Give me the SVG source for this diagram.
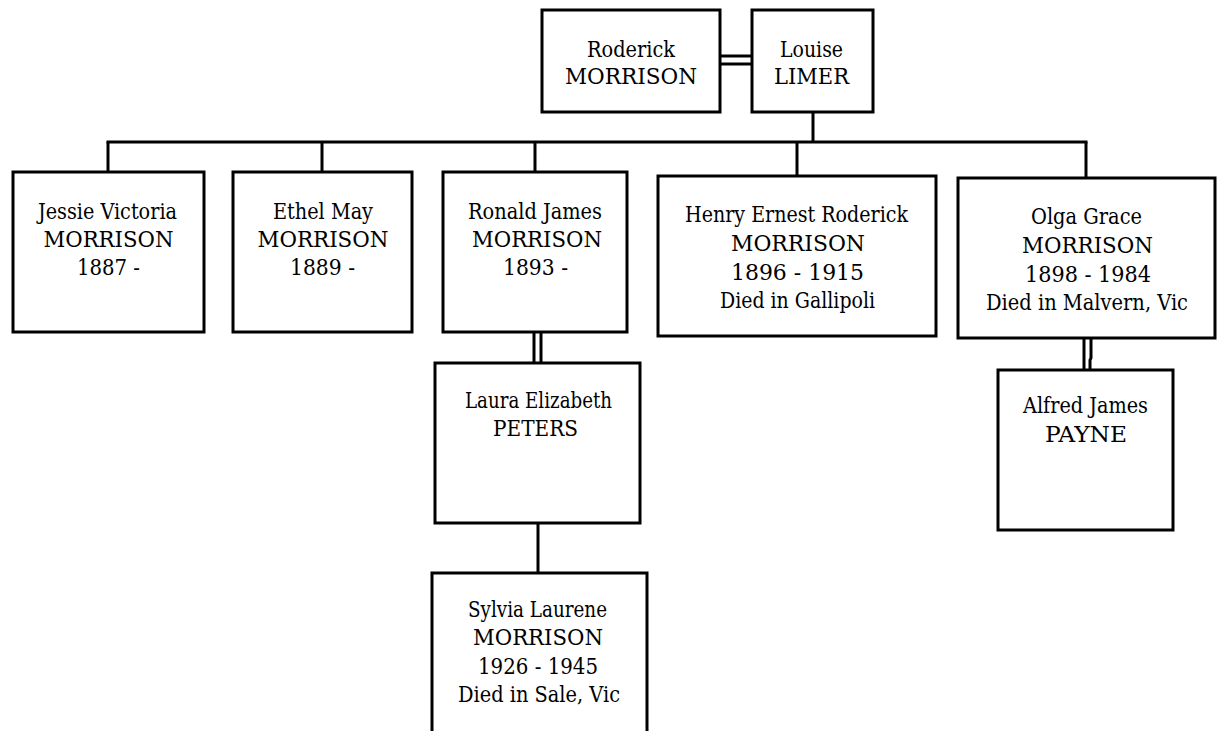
<svg xmlns="http://www.w3.org/2000/svg" width="1217" height="731" viewBox="0 0 1217 731">
<style>
.box{fill:#fff;stroke:#000;stroke-width:3}
.ln{fill:none;stroke:#000;stroke-width:3}
.t{font-family:'DejaVu Serif Condensed','DejaVu Serif','Liberation Serif',serif;font-size:23px;fill:#000;text-anchor:middle}
</style>
<rect width="1217" height="731" fill="#fff"/>
<g id="connectors">
<line class="ln" x1="720" y1="56" x2="752" y2="56"/>
<line class="ln" x1="720" y1="64" x2="752" y2="64"/>
<line class="ln" x1="813" y1="112" x2="813" y2="142"/>
<line class="ln" x1="106.5" y1="142" x2="1087.5" y2="142"/>
<line class="ln" x1="108" y1="142" x2="108" y2="172"/>
<line class="ln" x1="322" y1="142" x2="322" y2="172"/>
<line class="ln" x1="535" y1="142" x2="535" y2="172"/>
<line class="ln" x1="797" y1="142" x2="797" y2="176"/>
<line class="ln" x1="1086" y1="142" x2="1086" y2="178"/>
<line class="ln" x1="534" y1="332" x2="534" y2="363"/>
<line class="ln" x1="541" y1="332" x2="541" y2="363"/>
<line class="ln" x1="538" y1="523" x2="538" y2="572"/>
<line class="ln" x1="1084" y1="338" x2="1084" y2="370"/>
<polyline class="ln" points="1091,338 1091,358 1090,360 1090,370"/>
</g>
<g class="t" lengthAdjust="spacingAndGlyphs">
<g id="roderick"><rect class="box" x="542" y="10" width="178" height="102"/><text x="631" y="57" textLength="88" lengthAdjust="spacingAndGlyphs">Roderick</text><text x="631" y="84" textLength="132" lengthAdjust="spacingAndGlyphs">MORRISON</text></g>
<g id="louise"><rect class="box" x="752" y="10" width="121" height="102"/><text x="811.5" y="57" textLength="63" lengthAdjust="spacingAndGlyphs">Louise</text><text x="811.5" y="84" textLength="75" lengthAdjust="spacingAndGlyphs">LIMER</text></g>
<g id="jessie"><rect class="box" x="13" y="172" width="191" height="160"/><text x="107.5" y="219" textLength="139" lengthAdjust="spacingAndGlyphs">Jessie Victoria</text><text x="108.5" y="247" textLength="130" lengthAdjust="spacingAndGlyphs">MORRISON</text><text x="108.5" y="275" textLength="63" lengthAdjust="spacingAndGlyphs">1887 -</text></g>
<g id="ethel"><rect class="box" x="233" y="172" width="179" height="160"/><text x="323" y="219" textLength="100" lengthAdjust="spacingAndGlyphs">Ethel May</text><text x="323" y="247" textLength="131" lengthAdjust="spacingAndGlyphs">MORRISON</text><text x="322.5" y="275" textLength="65" lengthAdjust="spacingAndGlyphs">1889 -</text></g>
<g id="ronald"><rect class="box" x="443" y="172" width="184" height="160"/><text x="535" y="219" textLength="134" lengthAdjust="spacingAndGlyphs">Ronald James</text><text x="537" y="247" textLength="130" lengthAdjust="spacingAndGlyphs">MORRISON</text><text x="535.5" y="275" textLength="65" lengthAdjust="spacingAndGlyphs">1893 -</text></g>
<g id="henry"><rect class="box" x="658" y="176" width="278" height="160"/><text x="796.5" y="222" textLength="223" lengthAdjust="spacingAndGlyphs">Henry Ernest Roderick</text><text x="798" y="251" textLength="134" lengthAdjust="spacingAndGlyphs">MORRISON</text><text x="797.5" y="280" textLength="133" lengthAdjust="spacingAndGlyphs">1896 - 1915</text><text x="797.5" y="308" textLength="155" lengthAdjust="spacingAndGlyphs">Died in Gallipoli</text></g>
<g id="olga"><rect class="box" x="958" y="178" width="257" height="160"/><text x="1086.5" y="224" textLength="111" lengthAdjust="spacingAndGlyphs">Olga Grace</text><text x="1087.5" y="253" textLength="131" lengthAdjust="spacingAndGlyphs">MORRISON</text><text x="1088" y="282" textLength="126" lengthAdjust="spacingAndGlyphs">1898 - 1984</text><text x="1087" y="310" textLength="202" lengthAdjust="spacingAndGlyphs">Died in Malvern, Vic</text></g>
<g id="laura"><rect class="box" x="435" y="363" width="205" height="160"/><text x="538.5" y="408" textLength="147" lengthAdjust="spacingAndGlyphs">Laura Elizabeth</text><text x="535.5" y="436" textLength="85" lengthAdjust="spacingAndGlyphs">PETERS</text></g>
<g id="sylvia"><rect class="box" x="432" y="573" width="215" height="170"/><text x="537.5" y="617" textLength="139" lengthAdjust="spacingAndGlyphs">Sylvia Laurene</text><text x="538" y="645" textLength="130" lengthAdjust="spacingAndGlyphs">MORRISON</text><text x="538" y="674" textLength="120" lengthAdjust="spacingAndGlyphs">1926 - 1945</text><text x="539" y="702" textLength="162" lengthAdjust="spacingAndGlyphs">Died in Sale, Vic</text></g>
<g id="alfred"><rect class="box" x="998" y="370" width="175" height="160"/><text x="1085.5" y="413" textLength="125" lengthAdjust="spacingAndGlyphs">Alfred James</text><text x="1086" y="442" textLength="82" lengthAdjust="spacingAndGlyphs">PAYNE</text></g>
</g>
</svg>
